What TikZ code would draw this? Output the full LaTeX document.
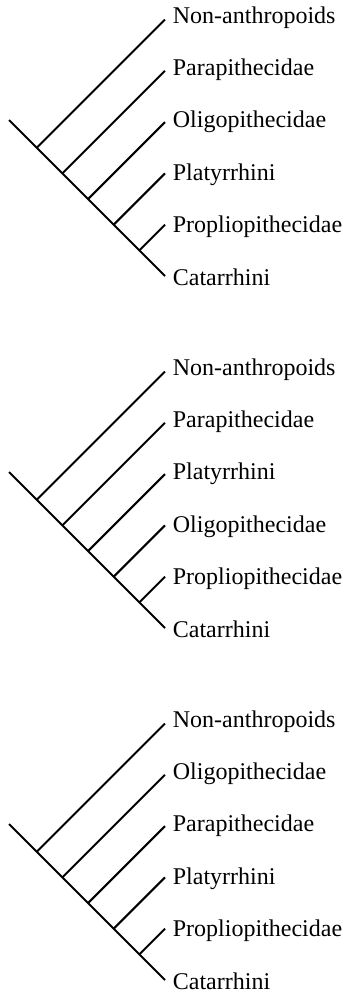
\documentclass[tikz,border=0pt]{standalone}
\usepackage{fontspec}
\setmainfont{Liberation Serif}
\usetikzlibrary{calc}

\begin{document}
\begin{tikzpicture}[x=0.5pt, y=-0.5pt,
    clade/.style={line width=1pt, black},
    taxon/.style={anchor=base west, inner sep=0pt, font=\fontsize{12}{14}\selectfont}]
  \useasboundingbox (0,0) rectangle (347,992);
  \def\s{51.3}
  \def\xtip{165}

  % three trees, top to bottom
  \foreach \k/\taxa in {%
      0/{Non-anthropoids,Parapithecidae,Oligopithecidae,Platyrrhini,Propliopithecidae,Catarrhini},%
      1/{Non-anthropoids,Parapithecidae,Platyrrhini,Oligopithecidae,Propliopithecidae,Catarrhini},%
      2/{Non-anthropoids,Oligopithecidae,Parapithecidae,Platyrrhini,Propliopithecidae,Catarrhini}}{
    \pgfmathsetmacro{\ytop}{19.5+352*\k}

    % tips and their labels
    \foreach \name [count=\i from 0] in \taxa {
      \coordinate (tip\k\i) at (\xtip, \ytop+\i*\s);
      \node[taxon] (lab\k\i) at (\xtip+7.5, \ytop+\i*\s+3.5+1.1*\i) {\name};
    }

    % main stem down to the last tip
    \coordinate (root\k) at ($(tip\k5)+(-156,-156)$);
    \draw[clade] (root\k) -- (tip\k5);

    % side branches
    \foreach \i in {0,...,4}{
      \pgfmathsetmacro{\t}{(5-\i)*\s/2}
      \coordinate (jn\k\i) at ($(tip\k\i)+(-\t,\t)$);
      \draw[clade] (jn\k\i) -- (tip\k\i);
    }
  }
\end{tikzpicture}
\end{document}
